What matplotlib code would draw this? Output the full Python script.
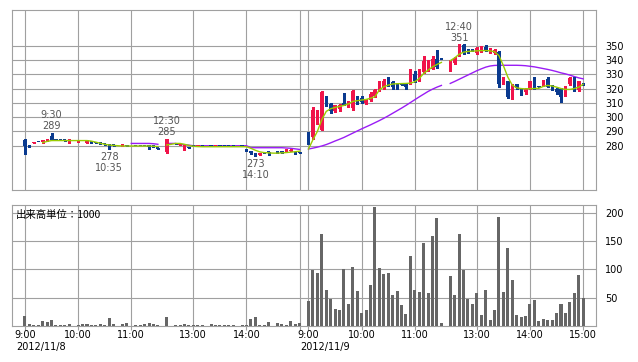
import numpy as np
import matplotlib
matplotlib.use("Agg")
import matplotlib.pyplot as plt

plt.rcParams['font.family'] = ['DejaVu Sans']

# 5-minute bars: slot 0 = 9:00, 30 = 11:30, 31 = lunch break, 32 = 12:30, 62 = 15:00
day_labels = ['2012/11/8', '2012/11/9']
day_offset = [0, 64]
tick_slots = [0, 12, 24, 38, 50, 62]
tick_times = ['9:00', '10:00', '11:00', '13:00', '14:00', '15:00']

d1_open = [284, 280, 281.8, 282.5, 282.3, 283.3, 286.5, 284.3, 284.2, 284, 281.6, None,
           282.3, 283.5, 282.2, 282.6, 282.5, 282.5, 281.2, 281.2, 280.5, None, 279.5, 280.3,
           None, 280, 279.8, 280, 280.3, 279.8, 278.3, None,
           275.3, None, 281.7, 280.5, 277.3, 278.8, 280.2, 280, 280.2, None, 280.2, 279.5,
           280.2, 279.9, 279.8, 279.8, None, 279.8, 277.9, 276, 275.1, 273.7, 275.3, 275.5,
           None, 275.5, 275.3, 276, 276.1, 275.6, 275.2]
d1_high = [284.5, 280.5, 282.5, 282.8, 284.2, 284.8, 289, 284.4, 284.3, 284, 284.8, None,
           283.8, 283.6, 283.8, 282.7, 282.5, 282.6, 281.3, 281.3, 280.6, None, 281.5, 280.4,
           None, 280.1, 279.9, 280.1, 280.5, 279.9, 278.4, None,
           285, None, 281.8, 281.4, 280.8, 279, 280.3, 280.6, 280.2, None, 280.3, 280.5,
           280.2, 280, 279.9, 279.8, None, 279.9, 278, 276.2, 275.2, 275.2, 275.4, 275.6,
           None, 275.6, 275.4, 277.5, 277.4, 275.8, 275.3]
d1_low = [274.5, 279, 281.6, 282.3, 282.2, 283.2, 284.2, 284, 284, 283.6, 281.6, None,
          282.3, 283, 282.2, 282.2, 282, 281, 280.8, 278, 280, None, 279.5, 279.8,
          None, 279.6, 279.5, 279.6, 277.5, 279.4, 277.9, None,
          275, None, 281.2, 280.5, 277.2, 278.2, 279.8, 280, 279.9, None, 279.9, 279.5,
          279.8, 279.7, 279.6, 279.5, None, 279.5, 276, 274.5, 273, 273.5, 275, 273.2,
          None, 275.2, 275.1, 276, 276, 274, 274.8]
d1_close = [279.5, 279.6, 282.5, 282.3, 284.2, 284.7, 284.2, 284, 284, 283.7, 284.7, None,
            283.7, 283.2, 283.6, 282.3, 282.1, 281.1, 280.9, 278.8, 280.1, None, 281.4, 279.9,
            None, 279.7, 279.6, 279.7, 279.3, 279.5, 278, None,
            284.6, None, 281.3, 281.2, 280.6, 278.4, 279.9, 280.5, 280, None, 280, 280.4,
            279.9, 279.8, 279.7, 279.6, None, 279.6, 276.2, 274.7, 273.3, 275.1, 275.1, 275.2,
            None, 275.3, 275.2, 277.4, 277.3, 274.6, 274.9]
d1_ma5 = [None, None, None, None, 282.2, 283, 283.6, 283.6, 283.6, 283.6, 283.6, 283.6,
          283.6, 283.6, 283.6, 283.2, 282.5, 281.7, 281, 280.5, 280.2, 280, 279.8, 279.8,
          279.8, 279.8, 279.8, 279.8, 279.8, 279.6, 279.4, None,
          280.5, 281, 281.6, 281.6, 281, 280.2, 279.6, 279.4, 279.3, 279.3, 279.3, 279.3,
          279.3, 279.3, 279.3, 279.3, 279.3, 279.3, 279.3, 278.2, 276.8, 275.7, 275.2, 275,
          274.8, 274.8, 275, 275.2, 275.5, 275.8, 276.2]
d1_ma25 = [None] * 24 + [281.6, 281.6, 281.6, 281.6, 281.6, 281.4, 281, None,
                         281.6, 281.6, 281.6, 280.8, 280.7, 280.4, 280, 280, 280, 280, 280, 280,
                         280, 280, 280, 280, 280, 280, 280, 278.6, 278.6, 278.6, 278.6, 278.6,
                         278.6, 278.6, 278.6, 278.4, 278.2, 277.8, 277.4]
d1_volume = [18, 4, 2, 2, 9, 7, 11, 2, 2, 2, 4, 0, 2, 4, 4, 2, 2, 4, 2, 14, 4, 0,
             4, 5, 0, 2, 2, 4, 5, 4, 2, None,
             16, 0, 2, 2, 4, 2, 2, 2, 2, 0, 4, 2, 2, 2, 2, 2, 0, 2, 2, 12, 16,
             2, 2, 7, 0, 5, 4, 2, 9, 4, 5]

d2_open = [289.3, 285.8, 296, 291.2, 314.5, 309.2, 304, 306, 310, 307.5, 306.4, 314.5,
           313.1, 309.6, 312, 314.5, 318.8, 320.1, 327, 324.8, 323.1, 323, 322.9, 323.6,
           329.9, 326, 331.7, 333, 334, 340.5, 341.1, None,
           337.6, 337.6, 343.4, 350.4, 346.2, 347, 344.6, 345.7, 349.2, 345.3, 345, 345.7,
           323.6, 325.2, 316.6, 322.9, 319.4, 317.8, 320.1, 325.2, 321.5, 322, 327, 322.4,
           320, 320, 315.4, 322.9, 327.6, 319, 323.1]
d2_high = [289.5, 306.8, 305, 318, 315, 310, 308.5, 309.5, 316.9, 311, 319, 315,
           314.7, 312.5, 317.5, 320, 325.5, 327, 328.3, 325, 323.3, 323.3, 323.2, 334,
           332.2, 334, 342.9, 339.9, 342.9, 346.8, 341.2, None,
           340.2, 342, 351, 351, 347.6, 347.3, 348.8, 349.5, 350.4, 348.2, 347.5, 346,
           328, 325.5, 323.2, 323.5, 319.8, 320.2, 325.5, 327.8, 321.7, 326, 328.3, 322.6,
           320.3, 320.5, 321.5, 327.8, 327.8, 325.4, 323.3]
d2_low = [281, 285, 295.5, 291, 308, 303, 303.5, 304.5, 308.5, 307, 305, 309,
          310, 309, 311.5, 314, 318, 319.5, 322, 320, 319.8, 322.5, 319.8, 323,
          324.5, 325.5, 331, 332.5, 333.5, 334.5, 340.8, None,
          332.2, 337, 343, 344, 344.6, 346.5, 344.3, 345.5, 346, 345, 344.5, 321.3,
          323, 313.5, 312.4, 320, 315.5, 316, 319.8, 319.5, 320.8, 321.5, 320.8, 318.8,
          316.5, 310.8, 315, 322.5, 318, 318.2, 322.8]
d2_close = [281.2, 305.2, 304, 317.3, 308.7, 304, 308.2, 308.7, 308.7, 309.9, 318.5, 309.9,
            310.7, 312, 315.9, 319, 325.2, 325.2, 322.4, 321.3, 322.8, 322.7, 321.3, 329.9,
            325.2, 333, 339.2, 336.4, 341, 335.2, 340.9, None,
            339.9, 341.5, 350.9, 344.6, 345.8, 346.8, 348.5, 349.2, 346.4, 348, 347, 322.9,
            327, 314.3, 322.9, 320.3, 316.1, 320, 325.2, 320, 321.2, 325.7, 321.3, 320.1,
            317.8, 314.3, 321.3, 327.6, 318.2, 325.2, 322.9]
d2_ma5 = [277.7, 284.2, 290, 298.2, 304, 305.9, 306.8, 307.5, 308.2, 309.2, 311, 311.5,
          312, 312.4, 313.2, 314.4, 319, 321.3, 322.4, 323.2, 323.4, 323.5, 323.6, 323.8,
          324.8, 327, 330.6, 332.9, 335.2, 336.9, 338.3, None,
          339.5, 341.5, 344, 345.5, 346, 346.2, 346.4, 346.6, 346.6, 346.4, 345.8, 343,
          336, 328, 322.4, 320.5, 320, 319.8, 320, 320, 320.2, 321.5, 322.2, 321.8,
          321, 320, 319.4, 319.4, 320, 321, 323]
d2_ma25 = [277.7, 278.3, 279, 279.8, 280.8, 282, 283.3, 284.5, 285.8, 287.3, 288.8, 290.3,
           291.8, 293.2, 294.6, 296.1, 297.6, 299.2, 300.9, 302.7, 304.5, 306.3, 308.2, 310.2,
           312.2, 314.2, 316.1, 318, 319.6, 321, 322.2, None,
           323.6, 325, 326.5, 328, 329.5, 331, 332.5, 333.8, 335, 335.8, 336.2, 336.3,
           336.3, 336.3, 336.3, 336.3, 336.2, 336, 335.6, 335.2, 334.6, 334, 333.4, 332.7,
           331.9, 331, 330.3, 329.4, 328.4, 327.5, 326.8]
d2_volume = [44, 99, 94, 163, 64, 48, 30, 28, 101, 39, 104, 62, 23, 28, 73, 211,
             103, 92, 94, 55, 62, 37, 21, 124, 64, 60, 147, 58, 159, 191, 5, None,
             89, 55, 163, 99, 48, 39, 58, 19, 64, 11, 28, 193, 60, 138, 81, 19,
             16, 18, 39, 46, 9, 12, 11, 11, 23, 39, 23, 42, 58, 90, 50]

# session high / low markers (day, slot, price, time)
mark_day = [0, 0, 0, 0, 1]
mark_slot = [6, 19, 32, 52, 34]
mark_price = [289, 278, 285, 273, 351]
mark_time = ['9:30', '10:35', '12:30', '14:10', '12:40']
mark_is_high = [True, False, True, False, True]

price_ticks = [280, 290, 300, 310, 320, 330, 340, 350]
volume_ticks = [50, 100, 150, 200]

RED = '#f0144a'
BLUE = '#0a3a8f'
GREEN = '#9acd00'
PURPLE = '#9a1cf5'
GRID = '#a0a0a0'
TXT = '#555555'

days = [
    dict(o=d1_open, h=d1_high, l=d1_low, c=d1_close, m5=d1_ma5, m25=d1_ma25, v=d1_volume),
    dict(o=d2_open, h=d2_high, l=d2_low, c=d2_close, m5=d2_ma5, m25=d2_ma25, v=d2_volume),
]

fig = plt.figure(figsize=(6.38, 3.62), dpi=100)
W, H = 638, 362
ax = fig.add_axes([12 / W, 1 - 190 / H, 584 / W, 180 / H])
axv = fig.add_axes([12 / W, 1 - 326 / H, 584 / W, 121 / H])

all_ticks = [s + off for off in day_offset for s in tick_slots]

for a in (ax, axv):
    a.set_xlim(-2.93, 128.9)
    a.set_xticks(all_ticks)
    a.grid(True, color=GRID, lw=0.8)
    a.set_axisbelow(True)
    for sp in a.spines.values():
        sp.set_color(GRID)
        sp.set_linewidth(0.8)
    a.yaxis.tick_right()
    a.tick_params(axis='y', length=0, pad=6.5, labelsize=7, labelcolor='black')

ax.tick_params(axis='x', length=0, labelbottom=False)
axv.tick_params(axis='x', length=3, color=GRID, width=0.8, labelbottom=False)

ax.set_ylim(249, 375)
ax.set_yticks(price_ticks)
axv.set_ylim(0, 214)
axv.set_yticks(volume_ticks)

for off, d in zip(day_offset, days):
    o = np.array(d['o'], dtype=float)
    h = np.array(d['h'], dtype=float)
    l = np.array(d['l'], dtype=float)
    c = np.array(d['c'], dtype=float)
    x = np.arange(len(o)) + off
    ax.plot(x, np.array(d['m25'], dtype=float), color=PURPLE, lw=1.0, zorder=3)
    ax.plot(x, np.array(d['m5'], dtype=float), color=GREEN, lw=1.0, zorder=5)

    ok = ~np.isnan(o)
    up = ok & (c > o)
    dn = ok & ~(c > o)
    for m, col in ((up, RED), (dn, BLUE)):
        ax.vlines(x[m], l[m], h[m], color=col, lw=0.8, zorder=4, antialiased=False)
        body = np.maximum(np.abs(c[m] - o[m]), 0.8)
        ax.bar(x[m], body, bottom=np.minimum(o[m], c[m]), width=0.72,
               color=col, lw=0, zorder=4, antialiased=False)

    v = np.array(d['v'], dtype=float)
    axv.bar(x, v, width=0.68, color='#666666', lw=0, zorder=3, antialiased=False)

# high / low labels
for dd, s, p, t, hi in zip(mark_day, mark_slot, mark_price, mark_time, mark_is_high):
    xx = s + day_offset[dd]
    if hi:
        ax.annotate(f'{t}\n{p}', xy=(xx, p), xytext=(0, 1), textcoords='offset points',
                    ha='center', va='bottom', fontsize=7, color=TXT, linespacing=1.15)
    else:
        ax.annotate(f'{p}\n{t}', xy=(xx, p), xytext=(0, -2.5), textcoords='offset points',
                    ha='center', va='top', fontsize=7, color=TXT, linespacing=1.15)

# time labels under the volume panel
for off, day in zip(day_offset, day_labels):
    for s, t in zip(tick_slots, tick_times):
        if off == 0 and s == 62:
            continue
        axv.annotate(t, xy=(s + off, 0), xycoords=('data', 'axes fraction'),
                     xytext=(0, -6.5), textcoords='offset points',
                     ha='center', va='center', fontsize=7, color='black')
    axv.annotate(day, xy=(off, 0), xycoords=('data', 'axes fraction'),
                 xytext=(-6, -15), textcoords='offset points',
                 ha='left', va='center', fontsize=7, color='black')

axv.text(4 / 584, 1 - 9.5 / 121, '出来高単位：1000', transform=axv.transAxes,
         ha='left', va='center', fontsize=7.5, color='black',
         family=['Noto Sans CJK JP', 'DejaVu Sans'])

fig.savefig('out.png', dpi=100, facecolor='white')
